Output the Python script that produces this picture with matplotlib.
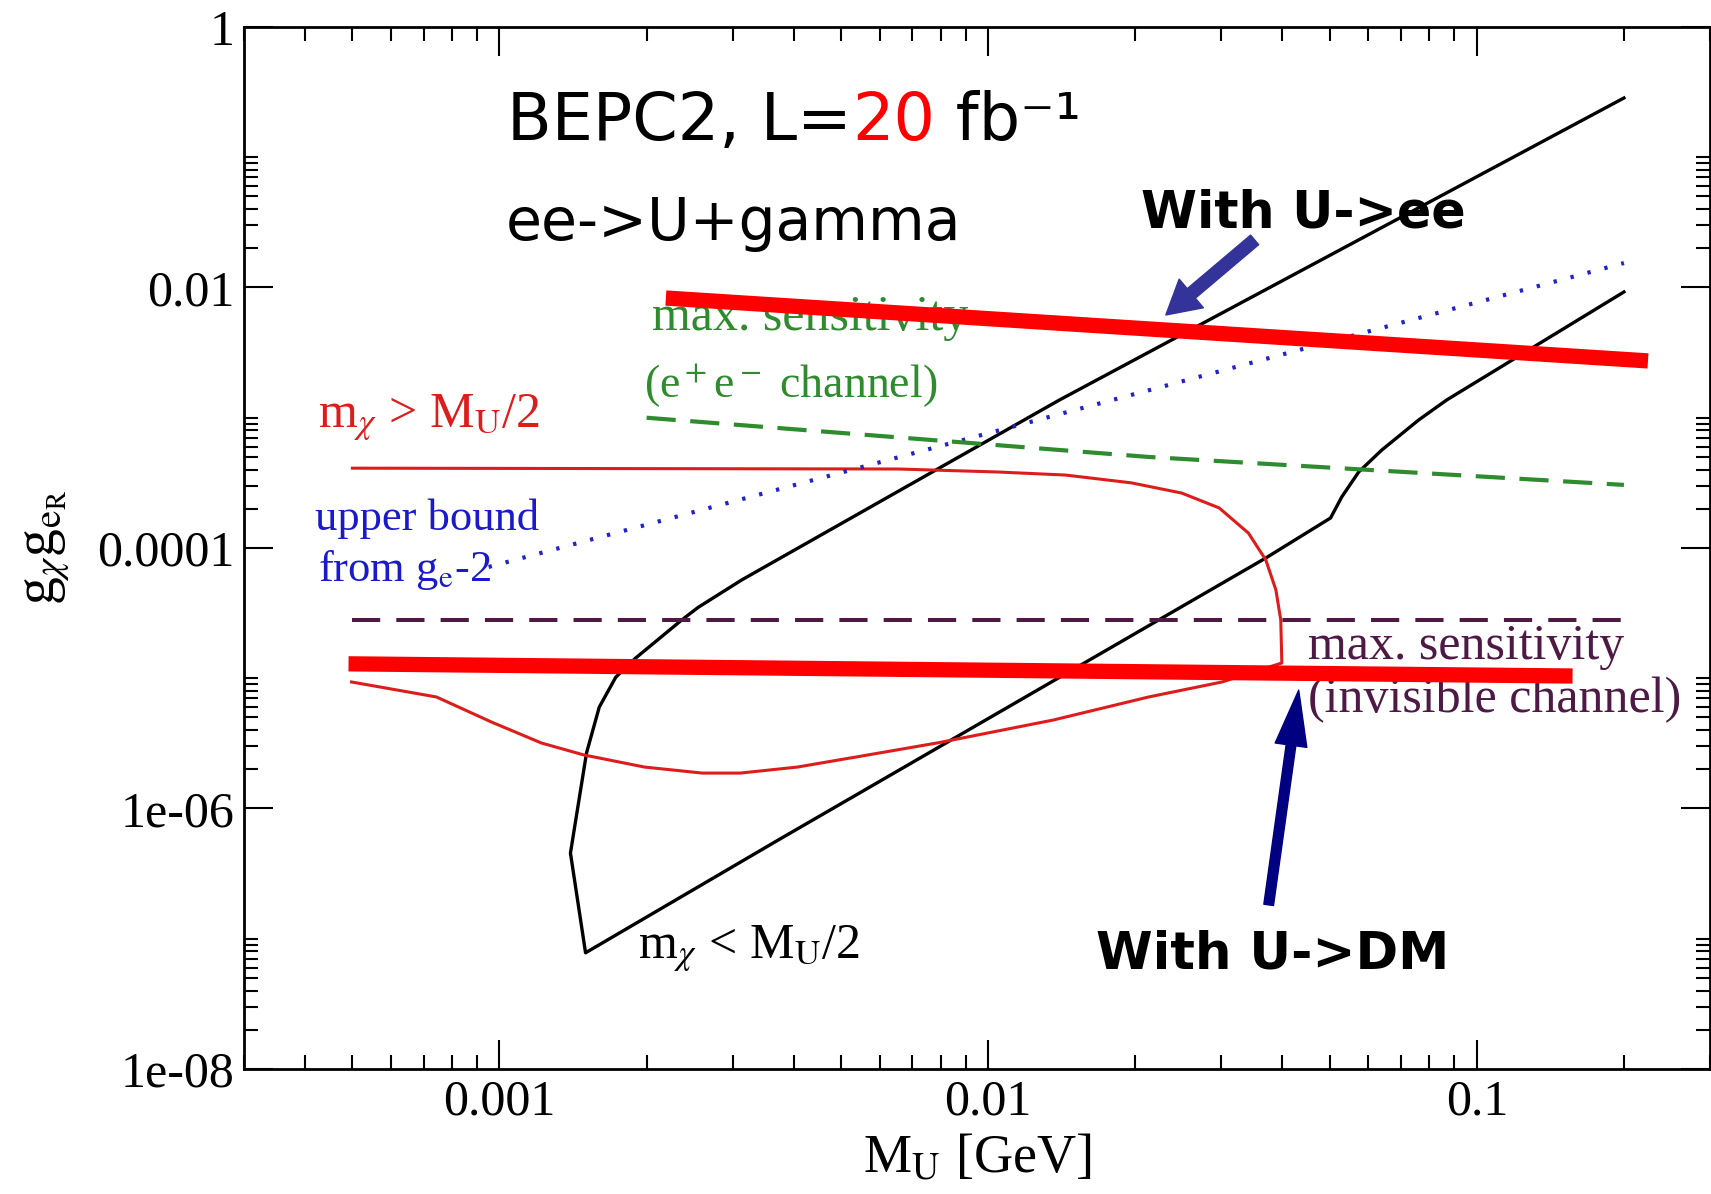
import numpy as np
import matplotlib
matplotlib.use("Agg")
from matplotlib import pyplot as plt
from matplotlib.ticker import FixedLocator, NullFormatter

plt.rcParams['font.family'] = ['Liberation Serif', 'DejaVu Serif']
plt.rcParams['mathtext.fontset'] = 'stix'

# m_chi < M_U/2 contour (black)
mu_lt = [0.200, 0.0140, 0.00313, 0.00255, 0.00236, 0.00190, 0.00173, 0.00160, 0.001507, 0.001397,
         0.00150, 0.00372, 0.0370, 0.0502, 0.0529, 0.0573, 0.0639, 0.0760, 0.0868, 0.200]
g_lt = [0.285, 1.37e-3, 5.68e-5, 3.5e-5, 2.8e-5, 1.43e-5, 1.02e-5, 6.0e-6, 2.67e-6, 4.55e-7,
        7.8e-8, 5.73e-7, 8.38e-5, 1.70e-4, 2.46e-4, 3.83e-4, 5.65e-4, 9.6e-4, 1.37e-3, 9.24e-3]

# m_chi > M_U/2 contour (red)
mu_gt = [5e-4, 6.56e-3, 0.0105, 0.01441, 0.01966, 0.0249, 0.0297, 0.0341, 0.0370, 0.0388,
         0.0397, 0.0399, 0.0301, 0.0213, 0.0136, 7.92e-3, 5.35e-3, 4.07e-3, 3.11e-3, 2.60e-3,
         1.98e-3, 1.486e-3, 1.219e-3, 9.63e-4, 7.43e-4, 4.98e-4]
g_gt = [4.1e-4, 4.04e-4, 3.83e-4, 3.63e-4, 3.16e-4, 2.64e-4, 2.03e-4, 1.30e-4, 8.09e-5, 4.76e-5,
        2.80e-5, 1.31e-5, 9.36e-6, 7.18e-6, 4.78e-6, 3.2e-6, 2.48e-6, 2.08e-6, 1.87e-6, 1.87e-6,
        2.08e-6, 2.58e-6, 3.18e-6, 4.61e-6, 7.18e-6, 9.36e-6]

# g_e-2 upper bound (blue dotted)
mu_g2 = [9.5e-4, 0.2]
g_g2 = [7.15e-5, 0.0154]

# max sensitivity e+e- channel (green dashed)
mu_ee = [0.002, 0.0213, 0.2]
g_ee = [1.0e-3, 5.0e-4, 3.05e-4]

# max sensitivity invisible channel (maroon dashed)
mu_inv = [5e-4, 0.2]
g_inv = [2.8e-5, 2.8e-5]

# thick red overlay lines
bar1_mu = [2.19e-3, 0.224]
bar1_g = [8.3e-3, 2.73e-3]
bar2_mu = [4.91e-4, 0.157]
bar2_g = [1.29e-5, 1.04e-5]

yticks = [1, 1e-2, 1e-4, 1e-6, 1e-8]
ylabels = ['1', '0.01', '0.0001', '1e-06', '1e-08']
xticks = [1e-3, 1e-2, 1e-1]
xlabels = ['0.001', '0.01', '0.1']

fig = plt.figure(figsize=(17.11, 11.94), dpi=100)
ax = fig.add_axes([0.1426, 0.1047, 0.8568, 0.8727])
ax.set_xscale('log')
ax.set_yscale('log')
ax.set_xlim(3e-4, 0.3)
ax.set_ylim(1e-8, 1)

ax.plot(mu_lt, g_lt, color='black', lw=2.4)
ax.plot(mu_gt, g_gt, color='#dd1c1c', lw=2.2)
ax.plot(mu_g2, g_g2, color='#2222cc', lw=3, dashes=(0.8, 3.4))
ax.plot(mu_ee, g_ee, color='#2e8b2e', lw=3, dashes=(7, 3.5))
ax.plot(mu_inv, g_inv, color='#4e1a45', lw=2.9, dashes=(7, 4))

# ticks
ax.yaxis.set_major_locator(FixedLocator(yticks))
ax.set_yticklabels(ylabels)
yminor = [k * 10.0**e for e in (-8, -6, -4, -2) for k in range(2, 11)]
ax.yaxis.set_minor_locator(FixedLocator(yminor))
ax.yaxis.set_minor_formatter(NullFormatter())
ax.xaxis.set_major_locator(FixedLocator(xticks))
ax.set_xticklabels(xlabels)
xminor = [k * 10.0**e for e in (-4, -3, -2, -1) for k in range(2, 10)]
ax.xaxis.set_minor_locator(FixedLocator(xminor))
ax.xaxis.set_minor_formatter(NullFormatter())
ax.tick_params(which='both', direction='in', top=True, right=True, width=1.5, labelsize=36)
ax.tick_params(which='major', length=21, pad=7)
ax.tick_params(which='minor', length=10)
for s in ax.spines.values():
    s.set_linewidth(2)

fig.text(0.571, 0.018, r'M$_\mathrm{U}$ [GeV]', fontsize=39, ha='center', va='baseline')
fig.text(0.027, 0.542, r'g$_\chi$g$_{\mathrm{e}_\mathrm{R}}$', fontsize=40,
         rotation=90, ha='center', va='center')

# curve labels
ax.text(4.26e-4, 8.49e-4, r'm$_\chi$ > M$_\mathrm{U}$/2', color='#dd1c1c', fontsize=36)
ax.text(4.2e-4, 1.37e-4, 'upper bound', color='#1a1acc', fontsize=32)
ax.text(4.25e-4, 5.58e-5, r'from g$_\mathrm{e}$-2', color='#1a1acc', fontsize=32)
ax.text(2.05e-3, 4.72e-3, 'max. sensitivity', color='#2e8b2e', fontsize=36)
ax.text(1.98e-3, 1.42e-3, r'(e$^+$e$^-$ channel)', color='#2e8b2e', fontsize=33)
ax.text(0.0451, 1.41e-5, 'max. sensitivity', color='#4e1a45', fontsize=36)
ax.text(0.0451, 5.5e-6, '(invisible channel)', color='#4e1a45', fontsize=36)
ax.text(1.925e-3, 7.1e-8, r'm$_\chi$ < M$_\mathrm{U}$/2', color='black', fontsize=36)

# overlay annotations
ax.plot(bar1_mu, bar1_g, color='red', lw=11, solid_capstyle='butt', zorder=5)
ax.plot(bar2_mu, bar2_g, color='red', lw=11, solid_capstyle='butt', zorder=5)

ax.annotate('', xy=(0.0231, 6.15e-3), xytext=(0.0351, 0.0232),
            arrowprops=dict(facecolor='#333399', edgecolor='#333399', width=9,
                            headwidth=27, headlength=24, shrink=0))
ax.annotate('', xy=(0.0432, 8.1e-6), xytext=(0.0375, 1.82e-7),
            arrowprops=dict(facecolor='#000080', edgecolor='#000080', width=7,
                            headwidth=23, headlength=40, shrink=0))

t1 = ax.text(1.038e-3, 0.1357, 'BEPC2, L=', fontsize=47, family='DejaVu Sans')
fig.canvas.draw()
t2 = ax.annotate('20', xy=(1, 0), xycoords=t1, color='red', fontsize=47,
                 family='DejaVu Sans', va='bottom')
t3 = ax.annotate(' fb\u207b\u00b9', xy=(1, 0), xycoords=t2, color='black', fontsize=47,
                 family='DejaVu Sans', va='bottom')
ax.text(1.029e-3, 0.0232, 'ee->U+gamma', fontsize=42, family='DejaVu Sans')
ax.text(0.0205, 0.0291, 'With U->ee', fontsize=36.5, family='DejaVu Sans', weight='bold')
ax.text(0.0166, 5.96e-8, 'With U->DM', fontsize=37, family='DejaVu Sans', weight='bold')

fig.savefig('out.png', dpi=100)
